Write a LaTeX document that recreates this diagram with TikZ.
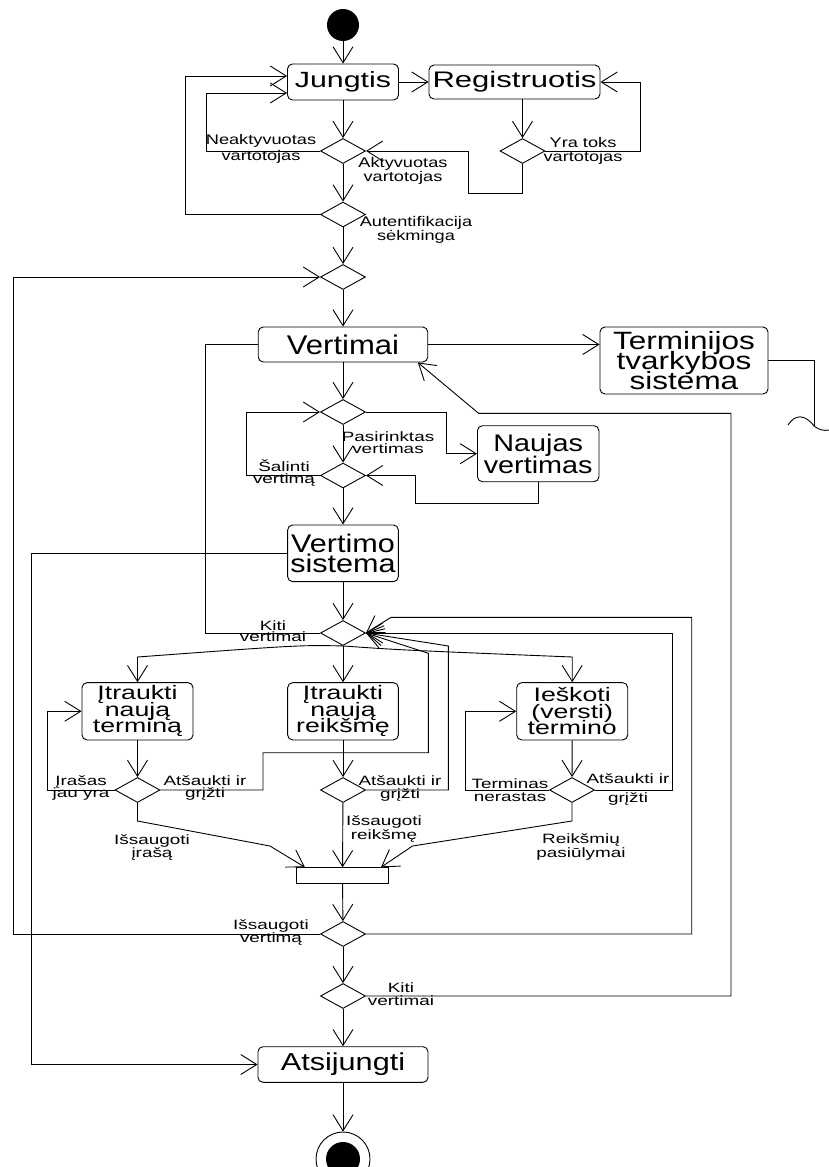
\documentclass[tikz,border=0pt]{standalone}
\usepackage{fontspec}
\setmainfont{Liberation Sans}
\usepackage{graphicx}
\usetikzlibrary{arrows.meta,shapes.geometric}
% horizontally stretched stack of centred lines: #1 stretch, #2 line spacing, #3 lines separated by \cr
\newcommand\stk[3]{\scalebox{#1}[1]{\vbox{\baselineskip=#2\lineskiplimit=-50pt\lineskip=0pt\halign{\hfil##\hfil\cr#3\crcr}}}}

\begin{document}
\begin{tikzpicture}[x=1pt,y=-1pt,line width=0.9pt,
  box/.style={draw, rounded corners=5pt, inner sep=0pt, fill=white},
  dec/.style={draw, diamond, shape aspect=1.8, minimum width=45pt, minimum height=25pt, inner sep=0pt},
  lbl/.style={inner sep=0pt, anchor=base, font=\fontsize{13.5}{13.5}\selectfont},
  arr/.style={-{Straight Barb[length=16pt,width=20pt]}},
]
\useasboundingbox (0,0) rectangle (829,1167);
\clip (0,0) rectangle (829,1167);

% ---- log in / register
\node[circle, fill, inner sep=0pt, minimum size=32pt] (start) at (343,25) {};
\node[box, minimum width=111pt, minimum height=36pt, font=\fontsize{22}{22}\selectfont] (jung) at (343,82) {\stk{1.38}{22pt}{Jungtis}};
\node[box, minimum width=171pt, minimum height=34pt, font=\fontsize{22.5}{22.5}\selectfont] (reg) at (514.5,82) {\stk{1.38}{22pt}{Registruotis}};
\node[dec] (d1) at (343,151) {};
\node[dec] (d2) at (343,214.5) {};
\node[dec] (dR) at (522.5,151) {};

\node[lbl, font=\fontsize{14}{14}\selectfont] (lNeak) at (261,160) {\stk{1.3}{16pt}{Neaktyvuotas\cr vartotojas}};
\node[lbl, font=\fontsize{14}{14}\selectfont] (lAkt) at (403,181) {\stk{1.3}{14pt}{Aktyvuotas\cr vartotojas}};
\node[lbl, font=\fontsize{14}{14}\selectfont] (lYra) at (583,161) {\stk{1.3}{14pt}{Yra toks\cr vartotojas}};
\node[lbl, font=\fontsize{14}{14}\selectfont] (lAut) at (416,240) {\stk{1.3}{13.5pt}{Autentifikacija\cr sėkminga}};

% ---- translations
\node[dec] (d3) at (343,277) {};
\node[box, minimum width=169.5pt, minimum height=35pt, font=\fontsize{27}{27}\selectfont] (vert) at (343,344.5) {\stk{1.15}{27pt}{Vertimai}};
\node[box, minimum width=168pt, minimum height=67pt, font=\fontsize{25}{25}\selectfont] (term) at (684,360.5) {\stk{1.26}{20pt}{Terminijos\cr tvarkybos\cr sistema}};
\node[dec] (d4) at (343,412) {};
\node[dec] (d5) at (343,475.5) {};
\node[box, minimum width=121.5pt, minimum height=56pt, font=\fontsize{24}{24}\selectfont] (nauj) at (538.2,453.7) {\stk{1.2}{22pt}{Naujas\cr vertimas}};
\node[box, minimum width=110.7pt, minimum height=56.7pt, font=\fontsize{25.5}{25.5}\selectfont] (vsys) at (343,553.3) {\stk{1.2}{20.5pt}{Vertimo\cr sistema}};
\node[dec] (d7) at (343,633) {};

\node[lbl] (lPas) at (388,453) {\stk{1.4}{11.5pt}{Pasirinktas\cr vertimas}};
\node[lbl] (lSal) at (284,483) {\stk{1.4}{11.5pt}{Šalinti\cr vertimą}};
\node[lbl] (lKiti1) at (273,641.5) {\stk{1.4}{11pt}{Kiti\cr vertimai}};

% ---- translation system actions
\node[box, minimum width=111pt, minimum height=57.3pt, font=\fontsize{19.5}{19.5}\selectfont] (bA) at (137.5,711.3) {\stk{1.37}{16.5pt}{Įtraukti\cr naują\cr terminą}};
\node[box, minimum width=110.7pt, minimum height=57.3pt, font=\fontsize{19.5}{19.5}\selectfont] (bB) at (343,711.3) {\stk{1.37}{16.5pt}{Įtraukti\cr naują\cr reikšmę}};
\node[box, minimum width=111pt, minimum height=57.3pt, font=\fontsize{19.5}{19.5}\selectfont] (bC) at (572.2,711.3) {\stk{1.37}{16.5pt}{Ieškoti\cr (versti)\cr termino}};
\node[dec] (dA) at (137.5,790) {};
\node[dec] (dB) at (343,790) {};
\node[dec] (dC) at (572,790) {};
\node[draw, fill=white, minimum width=92.7pt, minimum height=15.6pt, inner sep=0pt] (bar) at (342.5,875.5) {};
\node[dec] (d6) at (343,934) {};
\node[dec] (d8) at (343,996) {};
\node[box, minimum width=170pt, minimum height=35.6pt, font=\fontsize{24.5}{24.5}\selectfont] (atsi) at (343,1064.5) {\stk{1.25}{24pt}{Atsijungti}};
\node[circle, draw, minimum size=54pt, inner sep=0pt] (end) at (343,1159) {};
\fill (end.center) circle[radius=17pt];

\node[lbl] (lIras) at (81,797) {\stk{1.4}{12pt}{Įrašas\cr jau yra}};
\node[lbl] (lAtsA) at (205,797) {\stk{1.4}{12pt}{Atšaukti ir\cr grįžti}};
\node[lbl] (lAtsB) at (400,798) {\stk{1.4}{12.5pt}{Atšaukti ir\cr grįžti}};
\node[lbl] (lTerm) at (510,801) {\stk{1.4}{12.5pt}{Terminas\cr nerastas}};
\node[lbl] (lAtsC) at (628,802) {\stk{1.4}{19pt}{Atšaukti ir\cr grįžti}};
\node[lbl] (lIsIr) at (152,857) {\stk{1.4}{13pt}{Išsaugoti\cr įrašą}};
\node[lbl] (lIsRe) at (384,839) {\stk{1.4}{14pt}{Išsaugoti\cr reikšmę}};
\node[lbl] (lReik) at (581,857) {\stk{1.4}{14pt}{Reikšmių\cr pasiūlymai}};
\node[lbl] (lIsVe) at (271,942) {\stk{1.4}{13pt}{Išsaugoti\cr vertimą}};
\node[lbl] (lKiti2) at (401,1005) {\stk{1.4}{12.5pt}{Kiti\cr vertimai}};

% ---- connectors: log in
\draw[arr] (start) -- (jung);
\draw[arr] (jung) -- (reg);
\draw[arr] (jung) -- (d1);
\draw[arr] (d1) -- (d2);
\draw[arr] (d2) -- (d3);
\draw[arr] (reg.south -| dR) -- (dR);
\draw[arr] (dR.east) -- (640,151) |- (reg.east);
\draw[arr] (dR.south) |- (468,193) |- (d1.east);
\draw[arr] (d1.west) -| (206,93) -- (jung.west |- 0,93);
\draw[arr] (d2.west) -| (185,76) -- (jung.west |- 0,76);

% ---- connectors: translations
\draw[arr] (d6.west) -| (13,277) -- (d3.west);
\draw[arr] (d3) -- (vert);
\draw[arr] (vert.east) -- (vert.east -| term.west);
\draw (term.east) -| (814,426);
\draw (788,425) .. controls (795,414) and (805,414) .. (814,426) .. controls (819,430) and (824,431) .. (829,430);
\draw[arr] (vert) -- (d4);
\draw[arr] (d4.east) -| (446,453.7) -- (nauj.west);
\draw[arr] (nauj.south) |- (415,503) |- (d5.east);
\draw[arr] (d4) -- (d5);
\draw[arr] (d5.west) -| (246,412) -- (d4.west);
\draw[arr] (d5) -- (vsys);
\draw[arr] (vsys.west) -| (31.7,1064.5) -- (atsi.west);
\draw[arr] (vsys) -- (d7);
\draw (d7.west) -| (205,344.5) -- (vert.west);

% ---- connectors: actions
\draw[arr] (d7.south) .. controls (300,645) .. (137.5,657) -- (bA.north);
\draw[arr] (d7.south) .. controls (400,650) .. (572.2,657) -- (bC.north);
\draw[arr] (d7) -- (bB);
\draw[arr] (bA) -- (dA);
\draw[arr] (bB) -- (dB);
\draw[arr] (bC) -- (dC);
\draw[arr] (dA.west) -| (47,711.3) -- (bA.west);
\draw[arr] (dC.west) -| (465.4,711.3) -- (bC.west);
\draw[arr] (dA.east) -- (263,790) -- (263,752.7) -- (428.3,752.7) -- (428.3,653.3) -- (d7.east);
\draw[arr] (dB.east) -- (448.4,790) -- (448.4,646) -- (d7.east);
\draw[arr] (dC.east) -| (672.6,633) -- (d7.east);
\draw[arr] (d6.east) -| (691.7,617.3) -- (391,617.3) -- (d7.east);
\draw[arr] (d8.east) -| (731,413.3) -- (478.6,413.3) -- (vert.south -| 417.8,0);
\draw[arr] (dA.south) -- (137.5,821) -- (270,846) -- (bar.north -| 305,0);
\draw[arr] (dB) -- (bar);
\draw[arr] (dC.south) -- (572,821) -- (412.5,846) -- (bar.north -| 381,0);
\draw[arr] (bar) -- (d6);
\draw[arr] (d6) -- (d8);
\draw[arr] (d8) -- (atsi);
\draw[arr] (atsi) -- (end);
\end{tikzpicture}
\end{document}
